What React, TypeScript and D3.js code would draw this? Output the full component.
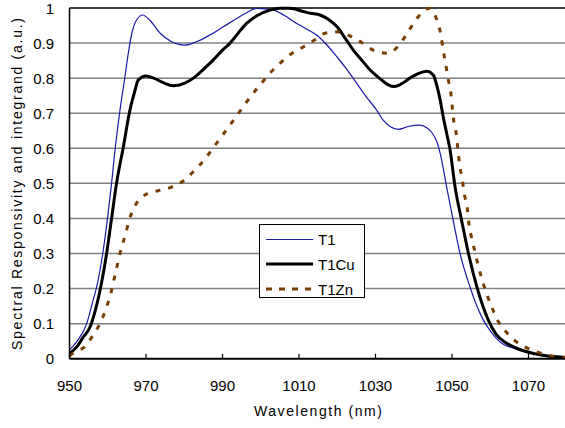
import React from "react";
import * as d3 from "d3";

const W = 565;
const H = 428;

const xTicks = [950, 970, 990, 1010, 1030, 1050, 1070];
const yTicks = [0, 0.1, 0.2, 0.3, 0.4, 0.5, 0.6, 0.7, 0.8, 0.9, 1];
const yTickLabels = ["0", "0.1", "0.2", "0.3", "0.4", "0.5", "0.6", "0.7", "0.8", "0.9", "1"];

const t1Wl = [950, 952, 954.5, 956, 957.1, 958.7, 960.1, 961, 961.9, 963.2, 964.5, 965.5, 966.3, 967.5, 969.1, 971, 973.7, 976.5, 980.2, 983.5, 986.7, 990, 993.7, 996, 999, 1003.3, 1006, 1009.4, 1012, 1014.6, 1017, 1019.9, 1022.5, 1025.1, 1027.7, 1030.3, 1032, 1033.8, 1036, 1038.5, 1041.6, 1043.5, 1044.7, 1046, 1046.9, 1048.6, 1050.3, 1052.1, 1054.7, 1056.5, 1058.2, 1060.3, 1062.5, 1066, 1069.5, 1074, 1078.2, 1080];
const t1Val = [0.025, 0.05, 0.1, 0.16, 0.205, 0.3, 0.415, 0.5, 0.595, 0.709, 0.804, 0.88, 0.928, 0.965, 0.98, 0.965, 0.928, 0.905, 0.894, 0.905, 0.923, 0.945, 0.97, 0.985, 0.999, 0.994, 0.98, 0.956, 0.94, 0.923, 0.898, 0.861, 0.825, 0.785, 0.745, 0.709, 0.68, 0.662, 0.654, 0.662, 0.666, 0.658, 0.645, 0.62, 0.586, 0.49, 0.395, 0.3, 0.205, 0.15, 0.11, 0.075, 0.048, 0.03, 0.02, 0.01, 0.004, 0.003];

const t1CuWl = [950, 952, 953.5, 955.4, 956.8, 958, 959.7, 961, 962.3, 964.1, 965.8, 967, 968, 970, 972, 974.5, 977.1, 980, 982.4, 985, 987.6, 990, 992, 993.7, 996.3, 999, 1002.4, 1005, 1007.6, 1011.1, 1013, 1015.5, 1018, 1019.9, 1022, 1024.2, 1026.5, 1028.6, 1031, 1033, 1034.7, 1036.5, 1039, 1041, 1043.4, 1045.1, 1046, 1046.9, 1047.7, 1048.6, 1049.5, 1050.8, 1052.5, 1054.3, 1056.5, 1059.5, 1061.5, 1064.3, 1067.5, 1071.3, 1075, 1079.1, 1080];
const t1CuVal = [0.015, 0.035, 0.06, 0.091, 0.14, 0.196, 0.3, 0.4, 0.5, 0.605, 0.709, 0.76, 0.795, 0.806, 0.8, 0.787, 0.778, 0.785, 0.8, 0.825, 0.852, 0.88, 0.9, 0.923, 0.956, 0.978, 0.994, 0.999, 0.999, 0.99, 0.985, 0.98, 0.965, 0.947, 0.915, 0.88, 0.85, 0.823, 0.8, 0.783, 0.776, 0.782, 0.8, 0.812, 0.82, 0.809, 0.78, 0.738, 0.69, 0.643, 0.595, 0.49, 0.395, 0.3, 0.205, 0.11, 0.07, 0.044, 0.027, 0.015, 0.008, 0.004, 0.003];

const t1ZnWl = [950, 951.5, 954, 956.2, 958.4, 959.7, 960.8, 961.7, 962.6, 963.5, 964.6, 965.6, 967.1, 969.7, 973.2, 976.3, 979.5, 982.6, 985.4, 987.8, 990.2, 992.8, 995.3, 997.9, 1000.3, 1002.4, 1005, 1007.9, 1011.3, 1014.4, 1016.8, 1020, 1023.8, 1026.5, 1029.7, 1033.2, 1036, 1038.4, 1040.8, 1042.5, 1044.2, 1045.3, 1046.2, 1047.1, 1047.7, 1048.4, 1049, 1049.7, 1050.1, 1050.5, 1051.2, 1051.6, 1052, 1052.7, 1053.2, 1054, 1054.4, 1055.1, 1056, 1056.9, 1057.9, 1059.1, 1060.4, 1061.9, 1064.1, 1067.1, 1070.8, 1074.8, 1078.7, 1080];
const t1ZnVal = [0.008, 0.02, 0.034, 0.068, 0.11, 0.148, 0.186, 0.229, 0.272, 0.313, 0.353, 0.395, 0.435, 0.467, 0.479, 0.488, 0.505, 0.536, 0.569, 0.605, 0.64, 0.679, 0.717, 0.755, 0.787, 0.814, 0.842, 0.869, 0.89, 0.911, 0.928, 0.932, 0.918, 0.901, 0.878, 0.871, 0.892, 0.93, 0.97, 0.99, 0.999, 0.985, 0.961, 0.923, 0.88, 0.837, 0.797, 0.757, 0.714, 0.674, 0.634, 0.59, 0.552, 0.51, 0.47, 0.429, 0.386, 0.346, 0.305, 0.264, 0.224, 0.184, 0.147, 0.11, 0.077, 0.046, 0.025, 0.011, 0.004, 0.003];

const seriesNames = ["T1", "T1Cu", "T1Zn"];

const FONT = "'Liberation Sans', Arial, sans-serif";

export default function App() {
  const x = d3.scaleLinear().domain([950, 1080]).range([69.5, 566.75]);
  const y = d3.scaleLinear().domain([0, 1]).range([358.7, 8]);

  const line = d3
    .line<[number, number]>()
    .x((d) => x(d[0]))
    .y((d) => y(d[1]))
    .curve(d3.curveMonotoneX);

  const zip = (a: number[], b: number[]) => a.map((v, i) => [v, b[i]] as [number, number]);

  const styles = [
    { stroke: "#1a1aa6", width: 1.2, dash: undefined as string | undefined },
    { stroke: "#000000", width: 3, dash: undefined },
    { stroke: "#7a3d00", width: 3, dash: "5,8" },
  ];
  const data = [zip(t1Wl, t1Val), zip(t1CuWl, t1CuVal), zip(t1ZnWl, t1ZnVal)];

  const legendRows = [239.5, 264, 289];

  return (
    <svg
      width={W}
      height={H}
      style={{ position: "absolute", left: 0, top: 0, background: "#fff" }}
      fontFamily={FONT}
    >
      <rect x={0} y={0} width={W} height={H} fill="#fff" />
      {yTicks.slice(1, 10).map((t) => (
        <line key={t} x1={x(950)} x2={W} y1={y(t)} y2={y(t)} stroke="#808080" strokeWidth={1.5} />
      ))}
      <line x1={x(950)} x2={W} y1={y(1)} y2={y(1)} stroke="#000" strokeWidth={1.5} />
      <clipPath id="plot">
        <rect x={x(950)} y={0} width={W} height={y(0)} />
      </clipPath>
      <g clipPath="url(#plot)">
        {data.map((d, i) => (
          <path
            key={i}
            d={line(d) || ""}
            fill="none"
            stroke={styles[i].stroke}
            strokeWidth={styles[i].width}
            strokeDasharray={styles[i].dash}
          />
        ))}
      </g>
      <line x1={x(950)} x2={x(950)} y1={y(1)} y2={y(0)} stroke="#000" strokeWidth={1.5} />
      <line x1={x(950)} x2={W} y1={y(0)} y2={y(0)} stroke="#000" strokeWidth={2} />
      {xTicks.map((t) => (
        <g key={t}>
          <line x1={x(t)} x2={x(t)} y1={y(0)} y2={y(0) - 5} stroke="#000" strokeWidth={1.2} />
          <text x={x(t)} y={391} textAnchor="middle" fontSize={15} fill="#000">
            {t}
          </text>
        </g>
      ))}
      {yTicks.map((t, i) => (
        <text key={t} x={54} y={y(t) + 5.5} textAnchor="end" fontSize={15} fill="#000">
          {yTickLabels[i]}
        </text>
      ))}
      <text
        transform={`translate(22,184) rotate(-90)`}
        textAnchor="middle"
        fontSize={14}
        textLength={332}
        lengthAdjust="spacing"
        fill="#000"
      >
        Spectral Responsivity and integrand (a.u.)
      </text>
      <text x={318} y={416} textAnchor="middle" fontSize={14} textLength={128} lengthAdjust="spacing" fill="#000">
        Wavelength (nm)
      </text>
      <rect x={259.5} y={224.5} width={105} height={73} fill="#fff" stroke="#000" strokeWidth={1} />
      {seriesNames.map((n, i) => (
        <g key={n}>
          <line
            x1={266}
            x2={313}
            y1={legendRows[i]}
            y2={legendRows[i]}
            stroke={styles[i].stroke}
            strokeWidth={styles[i].width}
            strokeDasharray={i === 2 ? "6,7" : undefined}
          />
          <text x={318} y={legendRows[i] + 5.5} fontSize={15} fill="#000">
            {n}
          </text>
        </g>
      ))}
    </svg>
  );
}
